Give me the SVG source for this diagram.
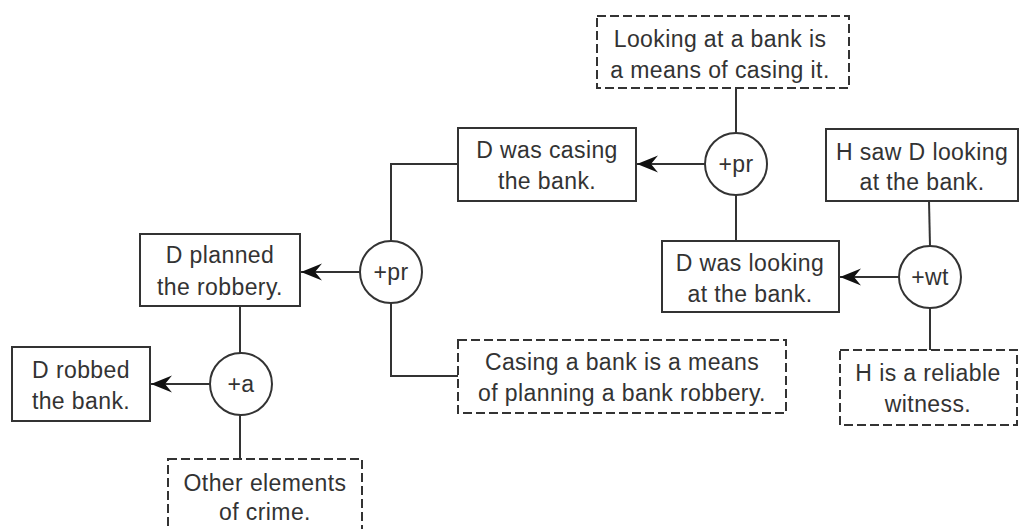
<svg xmlns="http://www.w3.org/2000/svg" width="1021" height="529" viewBox="0 0 1021 529">
<defs>
<style>
.box{fill:#fff;stroke:#333;stroke-width:2}
.dash{fill:#fff;stroke:#333;stroke-width:2;stroke-dasharray:9 4}
.circ{fill:#fff;stroke:#333;stroke-width:2}
.edge{fill:none;stroke:#333;stroke-width:2}
.arr{fill:none;stroke:#333;stroke-width:2;marker-end:url(#ah)}
text{font-family:"Liberation Sans",Arial,sans-serif;font-size:23px;letter-spacing:0.4px;fill:#333;text-anchor:middle}
</style>
<marker id="ah" markerUnits="userSpaceOnUse" markerWidth="24" markerHeight="20" viewBox="-22 -10 24 20" refX="0" refY="0" orient="auto">
<path d="M0,0 L-21,-8.5 L-14,0 L-21,8.5 Z" fill="#111" stroke="none"/>
</marker>
</defs>
<g id="connectors">
<line class="edge" x1="736" y1="89" x2="736" y2="133"/>
<line class="edge" x1="736" y1="195" x2="736" y2="241"/>
<line class="arr" x1="705" y1="164" x2="637" y2="164"/>
<polyline class="edge" points="458,164 391,164 391,241"/>
<polyline class="edge" points="391,303 391,376 458,376"/>
<line class="arr" x1="360" y1="272" x2="301" y2="272"/>
<line class="edge" x1="929" y1="201" x2="930" y2="246"/>
<line class="edge" x1="930" y1="308" x2="930" y2="350"/>
<line class="arr" x1="899" y1="277" x2="840" y2="277"/>
<line class="edge" x1="240" y1="306" x2="240" y2="353"/>
<line class="edge" x1="240" y1="415" x2="240" y2="459"/>
<line class="arr" x1="210" y1="384" x2="151" y2="384"/>
</g>
<g id="n1">
<rect class="dash" x="597" y="16" width="252" height="72"/>
<text x="720" y="47">Looking at a bank is</text>
<text x="720" y="78">a means of casing it.</text>
</g>
<g id="n2">
<rect class="box" x="458" y="128" width="178" height="73"/>
<text x="547" y="158">D was casing</text>
<text x="547" y="189">the bank.</text>
</g>
<g id="n3">
<rect class="box" x="826" y="129" width="192" height="72"/>
<text x="922" y="160">H saw D looking</text>
<text x="922" y="190">at the bank.</text>
</g>
<g id="n4">
<rect class="box" x="140" y="234" width="160" height="72"/>
<text x="220" y="263">D planned</text>
<text x="220" y="295">the robbery.</text>
</g>
<g id="n5">
<rect class="box" x="662" y="241" width="177" height="71"/>
<text x="750" y="271">D was looking</text>
<text x="750" y="302">at the bank.</text>
</g>
<g id="n6">
<rect class="dash" x="458" y="340" width="328" height="73"/>
<text x="622" y="370">Casing a bank is a means</text>
<text x="622" y="401">of planning a bank robbery.</text>
</g>
<g id="n7">
<rect class="dash" x="840" y="350" width="177" height="75"/>
<text x="928" y="381">H is a reliable</text>
<text x="928" y="412">witness.</text>
</g>
<g id="n8">
<rect class="box" x="12" y="347" width="138" height="74"/>
<text x="81" y="378">D robbed</text>
<text x="81" y="409">the bank.</text>
</g>
<g id="n9">
<rect class="dash" x="168" y="459" width="194" height="80"/>
<text x="265" y="491">Other elements</text>
<text x="265" y="520">of crime.</text>
</g>
<g id="c1">
<circle class="circ" cx="736" cy="164" r="31"/>
<text x="736" y="172">+pr</text>
</g>
<g id="c2">
<circle class="circ" cx="391" cy="272" r="31"/>
<text x="391" y="280">+pr</text>
</g>
<g id="c3">
<circle class="circ" cx="930" cy="277" r="31"/>
<text x="930" y="285">+wt</text>
</g>
<g id="c4">
<circle class="circ" cx="241" cy="384" r="31"/>
<text x="241" y="392">+a</text>
</g>
</svg>
